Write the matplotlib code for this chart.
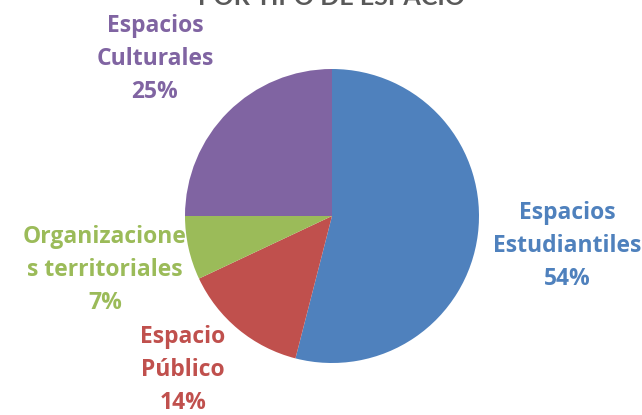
import matplotlib
matplotlib.use("Agg")
import matplotlib.pyplot as plt

# data
labels = ["Espacios\nEstudiantiles", "Espacio\nPúblico",
          "Organizacione\ns territoriales", "Espacios\nCulturales"]
values = [54, 14, 7, 25]
colors = ["#4F81BD", "#C0504D", "#9BBB59", "#8064A2"]
title = "POR TIPO DE ESPACIO"

W, H = 642, 415
fig = plt.figure(figsize=(W / 100, H / 100), dpi=100)
ax = fig.add_axes([0, 0, 1, 1])

ax.pie(values, colors=colors, startangle=90, counterclock=False,
       center=(332, H - 216), radius=147, frame=True,
       wedgeprops=dict(linewidth=0))
ax.set_xlim(0, W)
ax.set_ylim(0, H)
ax.axis("off")

# label positions in pixels (x center, y center of block)
label_pos = [(567, 246), (183, 370), (105, 270), (155, 59)]
for lab, v, c, (x, y) in zip(labels, values, colors, label_pos):
    ax.text(x, H - y, f"{lab}\n{v}%", color=c, fontsize=16.5, fontweight="bold",
            family="Open Sans", ha="center", va="center", linespacing=1.5)

ax.text(332, H - 5, title, color="#595959", fontsize=18, fontweight="bold",
        family="Lato", ha="center", va="baseline")

fig.savefig("out.png", dpi=100)
